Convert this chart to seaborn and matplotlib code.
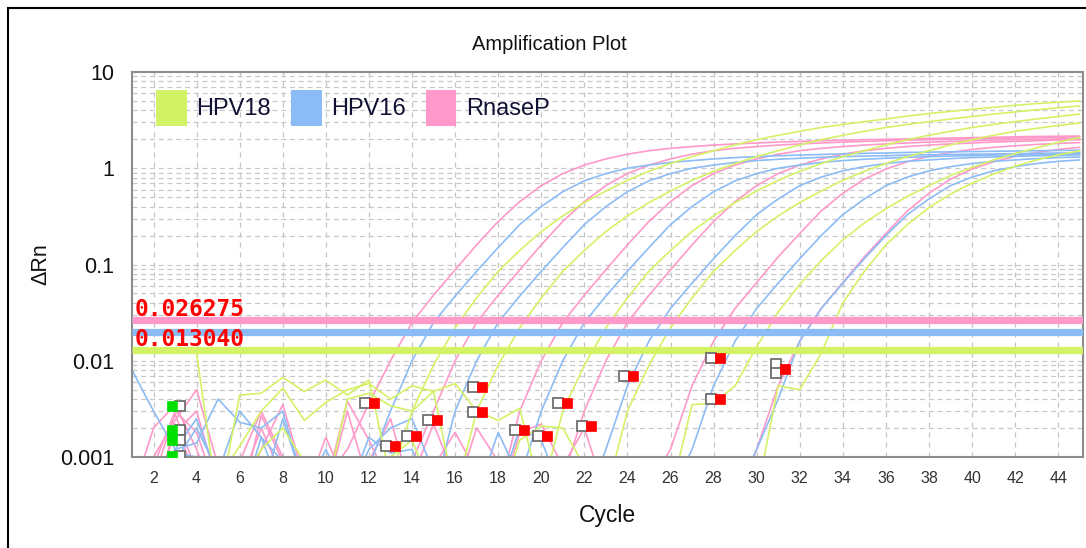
import numpy as np
import pandas as pd
import matplotlib
matplotlib.use("Agg")
import matplotlib.pyplot as plt
import matplotlib.transforms as mtransforms
from matplotlib.patches import Patch, Rectangle
from matplotlib.ticker import LogLocator, NullFormatter, FixedLocator, FuncFormatter
import seaborn as sns

# ---------------- data ----------------
cycles = list(range(1, 46))
targets = ["HPV18", "HPV16", "RnaseP"]
colors = {"HPV18": "#d4f266", "HPV16": "#8cbcf5", "RnaseP": "#ff99c9"}

# RnaseP wells (delta Rn per cycle 1..45)
rnasep_1 = [0.0005, 0.0010, 0.0024, 0.0050, 0.0008, 0.0003, 0.0027, 0.0009, 0.0004, 0.0006,
            0.0012, 0.0036, 0.010, 0.025, 0.048, 0.088, 0.16, 0.28, 0.45, 0.66,
            0.88, 1.08, 1.25, 1.40, 1.52, 1.61, 1.68, 1.74, 1.79, 1.83,
            1.87, 1.90, 1.93, 1.96, 1.98, 2.00, 2.02, 2.04, 2.06, 2.08,
            2.10, 2.12, 2.14, 2.15, 2.16]
rnasep_2 = [0.0003, 0.0008, 0.0030, 0.0018, 0.0004, 0.0009, 0.0030, 0.0010, 0.0003, 0.0005,
            0.0038, 0.0015, 0.0005, 0.0009, 0.003, 0.010, 0.025, 0.048, 0.088, 0.16,
            0.28, 0.45, 0.66, 0.88, 1.08, 1.25, 1.40, 1.52, 1.61, 1.68,
            1.74, 1.79, 1.83, 1.87, 1.90, 1.93, 1.96, 1.98, 2.00, 2.02,
            2.04, 2.06, 2.08, 2.10, 2.12]
rnasep_3 = [0.0004, 0.0020, 0.0035, 0.0012, 0.0003, 0.0004, 0.0012, 0.0035, 0.0006, 0.0003,
            0.0004, 0.0009, 0.0025, 0.0004, 0.0008, 0.0018, 0.0007, 0.0004, 0.0030, 0.010,
            0.025, 0.048, 0.088, 0.16, 0.28, 0.45, 0.66, 0.88, 1.08, 1.25,
            1.40, 1.52, 1.61, 1.68, 1.74, 1.79, 1.83, 1.87, 1.90, 1.93,
            1.96, 1.98, 2.00, 2.02, 2.04]
rnasep_4 = [0.0, 0.0006, 0.0028, 0.0007, 0.0, 0.0005, 0.0020, 0.0006, 0.0, 0.0004,
            0.0030, 0.0005, 0.0, 0.0006, 0.0022, 0.0006, 0.0, 0.0004, 0.0007, 0.0003,
            0.0006, 0.0030, 0.010, 0.025, 0.048, 0.088, 0.16, 0.28, 0.45, 0.66,
            0.88, 1.08, 1.25, 1.40, 1.52, 1.61, 1.68, 1.74, 1.79, 1.83,
            1.87, 1.90, 1.93, 1.96, 1.98]
rnasep_5 = [0.0, 0.0004, 0.0018, 0.0030, 0.0005, 0.0, 0.0004, 0.0007, 0.0004, 0.0016,
            0.0005, 0.0, 0.0003, 0.0005, 0.0004, 0.0005, 0.0004, 0.0003, 0.0018, 0.0022,
            0.0008, 0.0020, 0.0004, 0.0003, 0.0005, 0.0012, 0.0055, 0.016, 0.035, 0.065,
            0.12, 0.21, 0.36, 0.55, 0.77, 0.98, 1.17, 1.33, 1.46, 1.57,
            1.65, 1.71, 1.77, 1.81, 1.85]
rnasep_6 = [0.0, 0.0003, 0.0022, 0.0006, 0.0, 0.0004, 0.0003, 0.0004, 0.0, 0.0003,
            0.0004, 0.0003, 0.0005, 0.0, 0.0003, 0.0004, 0.0020, 0.0009, 0.0003, 0.0004,
            0.0003, 0.0004, 0.0003, 0.0004, 0.0003, 0.0004, 0.0003, 0.0004, 0.0003, 0.0012,
            0.0055, 0.016, 0.035, 0.065, 0.12, 0.21, 0.36, 0.55, 0.77, 0.98,
            1.17, 1.33, 1.46, 1.57, 1.65]

# HPV16 wells
hpv16_1 = [0.0080, 0.0030, 0.0012, 0.0014, 0.0040, 0.0023, 0.0020, 0.0030, 0.0005, 0.0004,
           0.0007, 0.0008, 0.0030, 0.010, 0.025, 0.047, 0.085, 0.15, 0.26, 0.40,
           0.57, 0.74, 0.88, 1.00, 1.08, 1.15, 1.20, 1.25, 1.29, 1.32,
           1.35, 1.37, 1.39, 1.41, 1.43, 1.44, 1.46, 1.47, 1.48, 1.49,
           1.50, 1.51, 1.52, 1.53, 1.54]
hpv16_2 = [0.0005, 0.0009, 0.0011, 0.0010, 0.0006, 0.0003, 0.0016, 0.0009, 0.0004, 0.0012,
           0.0004, 0.0016, 0.0011, 0.0012, 0.0004, 0.003, 0.010, 0.025, 0.047, 0.085,
           0.15, 0.26, 0.40, 0.57, 0.74, 0.88, 1.00, 1.08, 1.15, 1.20,
           1.24, 1.27, 1.30, 1.32, 1.34, 1.35, 1.37, 1.38, 1.39, 1.40,
           1.41, 1.42, 1.43, 1.44, 1.45]
hpv16_3 = [0.0006, 0.0004, 0.0009, 0.0020, 0.0007, 0.0030, 0.0016, 0.0004, 0.0003, 0.0005,
           0.0004, 0.0012, 0.0020, 0.0025, 0.0007, 0.0005, 0.0004, 0.0018, 0.0006, 0.003,
           0.010, 0.025, 0.047, 0.085, 0.15, 0.26, 0.40, 0.57, 0.74, 0.88,
           1.00, 1.08, 1.15, 1.20, 1.24, 1.27, 1.30, 1.32, 1.34, 1.35,
           1.37, 1.38, 1.39, 1.40, 1.41]
hpv16_4 = [0.0, 0.0004, 0.0012, 0.0025, 0.0006, 0.0, 0.0004, 0.0025, 0.0005, 0.0,
           0.0004, 0.0006, 0.0010, 0.0005, 0.0004, 0.0003, 0.0005, 0.0004, 0.0020, 0.0015,
           0.0004, 0.0003, 0.0012, 0.0055, 0.016, 0.035, 0.064, 0.115, 0.20, 0.33,
           0.48, 0.66, 0.81, 0.94, 1.04, 1.12, 1.18, 1.22, 1.26, 1.29,
           1.31, 1.33, 1.35, 1.36, 1.38]
hpv16_5 = [0.0, 0.0003, 0.0005, 0.0004, 0.0, 0.0003, 0.0005, 0.0003, 0.0, 0.0004,
           0.0005, 0.0003, 0.0004, 0.0003, 0.0, 0.0004, 0.0003, 0.0004, 0.0003, 0.0004,
           0.0003, 0.0004, 0.0003, 0.0004, 0.0003, 0.0004, 0.0012, 0.0055, 0.016, 0.035,
           0.064, 0.115, 0.20, 0.33, 0.48, 0.66, 0.81, 0.94, 1.04, 1.12,
           1.18, 1.22, 1.26, 1.29, 1.31]
hpv16_6 = [0.0, 0.0003, 0.0004, 0.0003, 0.0, 0.0003, 0.0004, 0.0003, 0.0, 0.0003,
           0.0004, 0.0003, 0.0004, 0.0003, 0.0, 0.0003, 0.0004, 0.0003, 0.0004, 0.0003,
           0.0004, 0.0003, 0.0004, 0.0003, 0.0004, 0.0003, 0.0004, 0.0003, 0.0004, 0.0012,
           0.0040, 0.016, 0.035, 0.064, 0.115, 0.20, 0.33, 0.48, 0.66, 0.81,
           0.94, 1.04, 1.12, 1.18, 1.22]

# HPV18 wells
hpv18_1 = [0.0130, 0.0130, 0.0130, 0.0120, 0.0003, 0.0044, 0.0046, 0.0067, 0.0048, 0.0063,
           0.0044, 0.0063, 0.0006, 0.003, 0.009, 0.022, 0.045, 0.085, 0.14, 0.22,
           0.32, 0.44, 0.58, 0.75, 0.93, 1.12, 1.32, 1.52, 1.75, 1.98,
           2.20, 2.42, 2.65, 2.85, 3.05, 3.25, 3.48, 3.70, 3.90, 4.10,
           4.30, 4.50, 4.70, 4.85, 5.00]
hpv18_2 = [0.0004, 0.0003, 0.0005, 0.0004, 0.0006, 0.0013, 0.0030, 0.0052, 0.0024, 0.0037,
           0.0050, 0.0058, 0.0040, 0.0055, 0.0048, 0.0004, 0.003, 0.009, 0.022, 0.045,
           0.085, 0.14, 0.22, 0.32, 0.44, 0.58, 0.75, 0.93, 1.12, 1.32,
           1.52, 1.75, 1.98, 2.20, 2.42, 2.65, 2.85, 3.05, 3.25, 3.45,
           3.65, 3.85, 4.05, 4.25, 4.45]
hpv18_3 = [0.0, 0.0004, 0.0006, 0.0005, 0.0004, 0.0005, 0.0012, 0.0020, 0.0009, 0.0004,
           0.0040, 0.0046, 0.0034, 0.0030, 0.0048, 0.0058, 0.0030, 0.0024, 0.0032, 0.0004,
           0.003, 0.009, 0.022, 0.045, 0.085, 0.14, 0.22, 0.32, 0.44, 0.58,
           0.75, 0.93, 1.12, 1.32, 1.52, 1.75, 1.98, 2.20, 2.42, 2.65,
           2.85, 3.05, 3.25, 3.45, 3.65]
hpv18_4 = [0.0, 0.0003, 0.0004, 0.0003, 0.0, 0.0004, 0.0003, 0.0004, 0.0003, 0.0004,
           0.0003, 0.0004, 0.0010, 0.0015, 0.0004, 0.0003, 0.0004, 0.0003, 0.0015, 0.0021,
           0.0020, 0.0008, 0.0004, 0.003, 0.009, 0.022, 0.045, 0.085, 0.14, 0.22,
           0.32, 0.44, 0.58, 0.75, 0.93, 1.12, 1.32, 1.52, 1.75, 1.98,
           2.20, 2.42, 2.60, 2.78, 2.95]
hpv18_5 = [0.0, 0.0003, 0.0004, 0.0003, 0.0, 0.0003, 0.0004, 0.0003, 0.0004, 0.0003,
           0.0004, 0.0003, 0.0004, 0.0003, 0.0004, 0.0003, 0.0004, 0.0003, 0.0004, 0.0003,
           0.0004, 0.0003, 0.0004, 0.0003, 0.0004, 0.0004, 0.0035, 0.0036, 0.0055, 0.014,
           0.032, 0.062, 0.11, 0.18, 0.27, 0.38, 0.51, 0.66, 0.84, 1.02,
           1.22, 1.42, 1.63, 1.86, 2.09]
hpv18_6 = [0.0, 0.0003, 0.0004, 0.0003, 0.0, 0.0003, 0.0004, 0.0003, 0.0004, 0.0003,
           0.0004, 0.0003, 0.0004, 0.0003, 0.0004, 0.0003, 0.0004, 0.0003, 0.0004, 0.0003,
           0.0004, 0.0003, 0.0004, 0.0003, 0.0004, 0.0004, 0.0003, 0.0004, 0.0003, 0.0004,
           0.0055, 0.0050, 0.012, 0.040, 0.085, 0.16, 0.26, 0.39, 0.54, 0.70,
           0.87, 1.05, 1.22, 1.38, 1.52]

wells = [
    ("RnaseP", "R1", rnasep_1), ("HPV16", "B1", hpv16_1), ("HPV18", "G1", hpv18_1),
    ("RnaseP", "R2", rnasep_2), ("HPV16", "B2", hpv16_2), ("HPV18", "G2", hpv18_2),
    ("RnaseP", "R3", rnasep_3), ("HPV16", "B3", hpv16_3), ("HPV18", "G3", hpv18_3),
    ("RnaseP", "R4", rnasep_4), ("HPV16", "B4", hpv16_4), ("HPV18", "G4", hpv18_4),
    ("RnaseP", "R5", rnasep_5), ("HPV16", "B5", hpv16_5), ("HPV18", "G5", hpv18_5),
    ("RnaseP", "R6", rnasep_6), ("HPV16", "B6", hpv16_6), ("HPV18", "G6", hpv18_6),
]

# thresholds
threshold_targets = ["RnaseP", "HPV16", "HPV18"]
threshold_values = [0.026275, 0.0200, 0.013040]
threshold_labels = ["0.026275", "0.013040"]
threshold_label_values = [0.026275, 0.013040]

# baseline start / end flags
flag_start_cycles = [2.86, 2.86, 2.86, 2.86]
flag_start_values = [0.0034, 0.0019, 0.0015, 0.00102]
flag_end_cycles = [12.25, 13.2, 14.2, 15.15, 17.25, 17.25, 19.2, 20.25, 21.2, 22.3,
                   24.25, 28.3, 28.3, 31.3]
flag_end_values = [0.0036, 0.0013, 0.00166, 0.00244, 0.0053, 0.0029, 0.0019, 0.00166,
                   0.0036, 0.0021, 0.0069, 0.0107, 0.0040, 0.0082]
flag_extra_cycles = [31.3, 31.3]
flag_extra_values = [0.0092, 0.0074]

# ---------------- build frame ----------------
rows = []
for tgt, well, vals in wells:
    for c, v in zip(cycles, vals):
        rows.append({"Cycle": c, "dRn": v, "target": tgt, "well": well})
df = pd.DataFrame(rows)

# ---------------- style ----------------
sns.set_style("white")
plt.rcParams["font.family"] = ["Liberation Sans", "DejaVu Sans"]

fig = plt.figure(figsize=(10.86, 5.48), dpi=100)
ax = fig.add_axes([132 / 1086, 91 / 548, 951 / 1086, 385 / 548])

sns.lineplot(data=df, x="Cycle", y="dRn", hue="target", units="well", estimator=None,
             palette=colors, legend=False, linewidth=1.2, ax=ax, sort=True, zorder=2)

ax.set_yscale("log")
ax.set_xlim(1, 45.15)
ax.set_ylim(0.001, 10)

# thresholds
for tgt, val in zip(threshold_targets, threshold_values):
    ax.axhline(val, color=colors[tgt], lw=5.2, zorder=4, solid_capstyle="butt")

for lab, val in zip(threshold_labels, threshold_label_values):
    ax.annotate(lab, xy=(0.003, val), xycoords=("axes fraction", "data"),
                xytext=(0, -1), textcoords="offset pixels", ha="left", va="bottom",
                color="#ff0000", fontsize=16.5, fontweight="bold",
                family="DejaVu Sans Mono", zorder=6)

# flags
off_left = mtransforms.ScaledTranslation(-9 / 100, 0, fig.dpi_scale_trans)
off_right = mtransforms.ScaledTranslation(8 / 100, 0, fig.dpi_scale_trans)
ax.plot(flag_end_cycles, flag_end_values, ls="none", marker="s", ms=7.2,
        mfc="white", mec="#707070", mew=1.3, transform=ax.transData + off_left, zorder=7)
ax.plot(flag_extra_cycles, flag_extra_values, ls="none", marker="s", ms=7.2,
        mfc="white", mec="#707070", mew=1.3, transform=ax.transData + off_left, zorder=7)
ax.plot(flag_end_cycles, flag_end_values, ls="none", marker="s", ms=7.2,
        mfc="#ff0000", mec="#ff0000", mew=0.5, zorder=8)
ax.plot(flag_start_cycles, flag_start_values, ls="none", marker="s", ms=6.8,
        mfc="white", mec="#707070", mew=1.3, transform=ax.transData + off_right, zorder=7)
ax.plot(flag_start_cycles, flag_start_values, ls="none", marker="s", ms=7.2,
        mfc="#00e000", mec="#00e000", mew=0.5, zorder=8)

# ticks & grid
ax.xaxis.set_major_locator(FixedLocator(list(range(2, 45, 2))))
ax.yaxis.set_major_locator(LogLocator(base=10, numticks=10))
ax.yaxis.set_minor_locator(LogLocator(base=10, subs=np.arange(2, 10), numticks=20))
ax.yaxis.set_minor_formatter(NullFormatter())
ax.yaxis.set_major_formatter(FuncFormatter(lambda v, p: "%g" % v))
ax.grid(True, which="major", axis="x", color="#c4c4c4", ls=(0, (4, 4)), lw=0.9, zorder=0)
ax.grid(True, which="both", axis="y", color="#c8c8c8", ls=(0, (4, 3)), lw=0.9, zorder=0)
ax.set_axisbelow(True)
ax.tick_params(axis="x", which="major", length=4, width=1.2, color="#808080",
               labelsize=11.5, labelcolor="#333333", pad=6, direction="out")
ax.tick_params(axis="y", which="major", length=4, width=1.2, color="#808080",
               labelsize=15.5, labelcolor="#111111", pad=9, direction="out")
ax.tick_params(axis="y", which="minor", length=0)
for sp in ax.spines.values():
    sp.set_color("#8c8c8c")
    sp.set_linewidth(1.5)

ax.set_xlabel("Cycle", fontsize=16.5, color="#111111", labelpad=13)
ax.set_ylabel("ΔRn", fontsize=15.5, color="#111111", labelpad=6)

fig.text(549 / 1086, 1 - 45 / 548, "Amplification Plot", ha="center", va="center",
         fontsize=14.5, color="#111111")

handles = [Patch(facecolor=colors[t], edgecolor="none", label=t) for t in targets]
leg = ax.legend(handles=handles, loc="upper left", bbox_to_anchor=(24 / 951, 1 - 18 / 385),
                ncol=3, frameon=False, fontsize=17, handlelength=1.3, handleheight=1.95,
                handletextpad=0.4, columnspacing=0.85, borderpad=0, borderaxespad=0)
for t in leg.get_texts():
    t.set_color("#111133")

fig.add_artist(Rectangle((8 / 1086, -0.1), 1.2, 1.1 - 8 / 548,
                         transform=fig.transFigure, fill=False, ec="black", lw=1.5))

fig.savefig("out.png", dpi=100)
